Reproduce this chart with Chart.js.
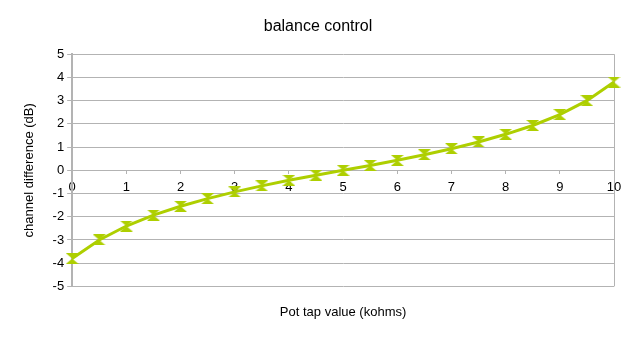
<!DOCTYPE html>
<html lang="en">
<head>
    <meta charset="UTF-8">
    <title>balance control</title>
    <script src="https://cdn.jsdelivr.net/npm/chart.js"></script>
    <style>
        html, body { margin: 0; padding: 0; background: #fff; }
        #wrap { width: 628px; height: 337px; }
    </style>
</head>
<body>
    <div id="wrap"><canvas id="balanceChart"></canvas></div>

    <script>
        // pot tap positions (kohms) and measured channel difference (dB)
        const tapValues = [0, 0.5, 1, 1.5, 2, 2.5, 3, 3.5, 4, 4.5, 5, 5.5, 6, 6.5, 7, 7.5, 8, 8.5, 9, 9.5, 10];
        const channelDiff = [-3.8, -3.0, -2.4, -1.93, -1.55, -1.22, -0.93, -0.67, -0.43, -0.21, 0,
                             0.21, 0.43, 0.67, 0.93, 1.22, 1.55, 1.93, 2.4, 3.0, 3.8];
        const xRange = [0, 10];
        const yRange = [-5, 5];

        const lineColor = '#aecf00';
        const gridColor = '#b3b3b3';

        // hourglass marker, like the spreadsheet one
        function makeMarker() {
            const c = document.createElement('canvas');
            c.width = 13;
            c.height = 11;
            const g = c.getContext('2d');
            g.fillStyle = lineColor;
            g.beginPath();
            g.moveTo(0, 0); g.lineTo(13, 0); g.lineTo(6.5, 5.5); g.closePath();
            g.moveTo(0, 11); g.lineTo(13, 11); g.lineTo(6.5, 5.5); g.closePath();
            g.fill();
            return c;
        }

        const points = tapValues.map((x, i) => ({ x: x, y: channelDiff[i] }));

        const ctx = document.getElementById('balanceChart').getContext('2d');
        new Chart(ctx, {
            type: 'line',
            data: {
                datasets: [{
                    data: points,
                    borderColor: lineColor,
                    backgroundColor: lineColor,
                    borderWidth: 3,
                    pointStyle: makeMarker(),
                    tension: 0,
                    clip: false,
                    xAxisID: 'x',
                    yAxisID: 'y'
                }]
            },
            options: {
                responsive: true,
                maintainAspectRatio: false,
                animation: false,
                layout: { padding: { left: 22, right: 14, top: 4, bottom: 17 } },
                plugins: {
                    legend: { display: false },
                    tooltip: { enabled: false },
                    title: {
                        display: true,
                        text: 'balance control',
                        color: '#000',
                        font: { family: 'Liberation Sans', size: 16, weight: 'normal' },
                        padding: { top: 13, bottom: 18 }
                    }
                },
                scales: {
                    x: {
                        type: 'linear',
                        position: 'bottom',
                        min: xRange[0],
                        max: xRange[1],
                        ticks: { display: false },
                        grid: { display: false },
                        border: { display: false },
                        title: {
                            display: true,
                            text: 'Pot tap value (kohms)',
                            color: '#000',
                            font: { family: 'Liberation Sans', size: 13 },
                            padding: { top: 10, bottom: 0 }
                        }
                    },
                    x2: {
                        type: 'linear',
                        axis: 'x',
                        position: { y: 0 },
                        min: xRange[0],
                        max: xRange[1],
                        ticks: {
                            stepSize: 1,
                            color: '#000',
                            padding: 5,
                            font: { family: 'Liberation Sans', size: 13 }
                        },
                        grid: {
                            color: c => (c.tick && c.tick.value === xRange[1]) ? gridColor : 'transparent',
                            tickColor: gridColor,
                            tickLength: 4
                        },
                        border: { display: false }
                    },
                    y: {
                        type: 'linear',
                        position: 'left',
                        min: yRange[0],
                        max: yRange[1],
                        ticks: {
                            stepSize: 1,
                            color: '#000',
                            padding: 3,
                            font: { family: 'Liberation Sans', size: 13 }
                        },
                        grid: { color: gridColor, tickLength: 5 },
                        border: { color: gridColor, width: 2 },
                        title: {
                            display: true,
                            text: 'channel difference (dB)',
                            color: '#000',
                            font: { family: 'Liberation Sans', size: 13 },
                            padding: { top: 0, bottom: 12 }
                        }
                    }
                }
            }
        });
    </script>
</body>
</html>
